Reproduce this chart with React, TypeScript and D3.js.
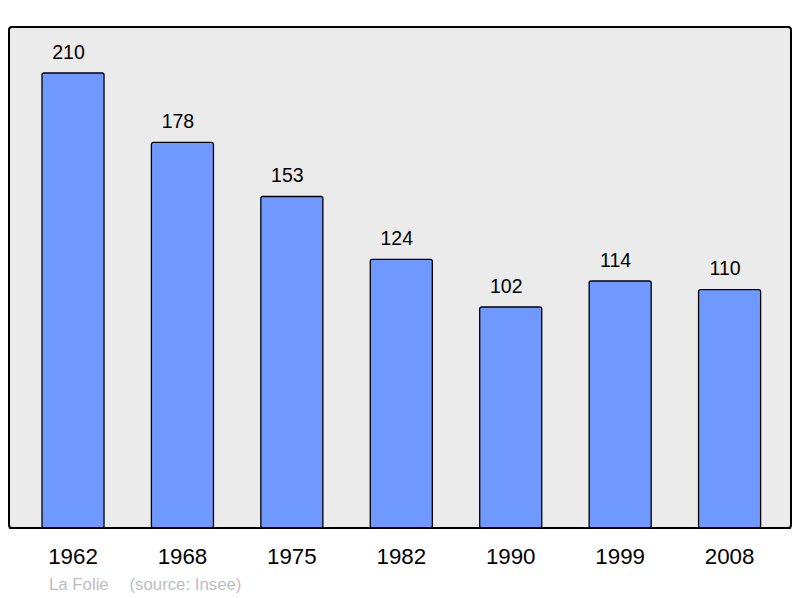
import React from 'react';
import * as d3 from 'd3';

const years = ['1962', '1968', '1975', '1982', '1990', '1999', '2008'];
const population = [210, 178, 153, 124, 102, 114, 110];
const placeName = 'La Folie';
const sourceNote = '(source: Insee)';

const W = 800;
const H = 598;
const panel = { x: 9, y: 27, w: 782, h: 501 };
const baseline = 528;

const App: React.FC = () => {
  const x = d3.scaleBand<string>()
    .domain(years)
    .range([18.3, 784.3])
    .paddingInner(0.433)
    .paddingOuter(0.2165);

  const y = d3.scaleLinear()
    .domain([0, 210])
    .range([baseline, 73]);

  return (
    <svg width={W} height={H} style={{ position: 'absolute', left: 0, top: 0, fontFamily: '"Liberation Sans", Arial, sans-serif' }}>
      <rect x={panel.x} y={panel.y} width={panel.w} height={panel.h} rx={3} ry={3}
        fill="#ebebeb" stroke="#000" strokeWidth={2} />
      {years.map((yr, i) => {
        const bx = x(yr)!;
        const cx = bx + x.bandwidth() / 2;
        const top = y(population[i]);
        return (
          <g key={yr}>
            <rect x={bx} y={top} width={x.bandwidth()} height={baseline - top}
              rx={2} ry={2} fill="#7099ff" stroke="#000" strokeWidth={1.3} />
            <text x={cx - 4.5} y={top - 14.5} textAnchor="middle"
              fontSize={19.5} fill="#000">{population[i]}</text>
            <text x={cx} y={564.3} textAnchor="middle"
              fontSize={22.3} fill="#000">{yr}</text>
          </g>
        );
      })}
      <line x1={panel.x} x2={panel.x + panel.w} y1={baseline} y2={baseline} stroke="#000" strokeWidth={2} />
      <text x={49} y={590} fontSize={16.8} fill="#bdbdbd">{placeName}</text>
      <text x={129.5} y={590} fontSize={16.8} fill="#bdbdbd">{sourceNote}</text>
    </svg>
  );
};

export default App;
